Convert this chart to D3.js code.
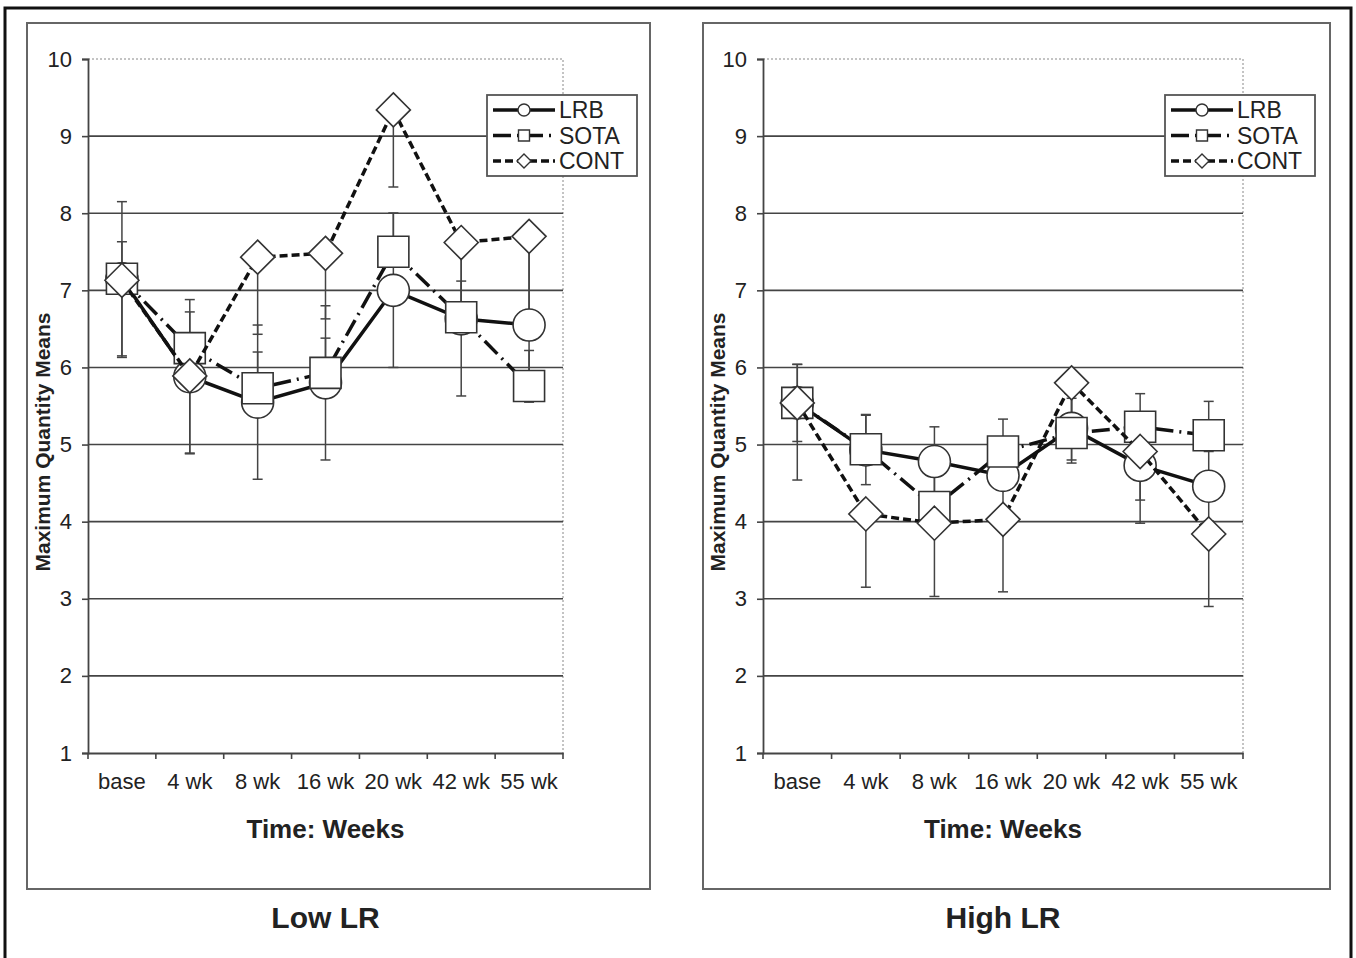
<!DOCTYPE html>
<html>
<head>
<meta charset="utf-8">
<script src="https://cdn.jsdelivr.net/npm/d3@7"></script>
<style>
  body { margin: 0; background: #fff; }
  svg { display: block; font-family: "Liberation Sans", Arial, sans-serif; }
</style>
</head>
<body>
<div id="chart"></div>
<script>
// Categories and ticks
const weeks = ['base', '4 wk', '8 wk', '16 wk', '20 wk', '42 wk', '55 wk'];
const seriesNames = ['LRB', 'SOTA', 'CONT'];
const yTicks = [1, 2, 3, 4, 5, 6, 7, 8, 9, 10];

// Low LR panel
const lowLRB = [7.15, 5.88, 5.55, 5.80, 7.00, 6.63, 6.55];
const lowSOTA = [7.15, 6.25, 5.73, 5.93, 7.50, 6.65, 5.76];
const lowCONT = [7.13, 5.89, 7.43, 7.48, 9.34, 7.62, 7.70];
const lowLRBErr = [1.0, 1.0, 1.0, 1.0, 1.0, 1.0, 1.0];
const lowSOTAErr = [0.48, 0.47, 0.47, 0.45, 0.50, 0.47, 0.46];
const lowCONTErr = [1.0, 1.0, 1.0, 0.85, 1.0, 1.0, 1.0];

// High LR panel
const highLRB = [5.54, 4.93, 4.78, 4.60, 5.21, 4.73, 4.46];
const highSOTA = [5.54, 4.94, 4.19, 4.91, 5.15, 5.23, 5.12];
const highCONT = [5.54, 4.10, 3.98, 4.03, 5.80, 4.91, 3.84];
const highLRBErr = [0.5, 0.45, 0.45, 0.45, 0.45, 0.45, 0.45];
const highSOTAErr = [0.5, 0.45, 0.45, 0.42, 0.45, 0.43, 0.44];
const highCONTErr = [1.0, 0.95, 0.95, 0.94, 1.0, 0.93, 0.94];

const width = 1356;
const height = 958;

const svg = d3.select('#chart')
  .append('svg')
  .attr('width', width)
  .attr('height', height);

// outer frame
svg.append('rect')
  .attr('x', 5).attr('y', 8)
  .attr('width', 1346).attr('height', 970)
  .attr('fill', '#fff')
  .attr('stroke', '#111')
  .attr('stroke-width', 3);

// series styles: line dash, marker, error bar direction
const styles = {
  LRB: { dash: null, marker: 'circle', dir: 'both' },
  SOTA: { dash: '18,6,2,6', marker: 'square', dir: 'plus' },
  CONT: { dash: '8,4', marker: 'diamond', dir: 'minus' }
};

function markerPath(type, s) {
  if (type === 'square') return `M${-s},${-s}H${s}V${s}H${-s}Z`;
  if (type === 'diamond') return `M0,${-s}L${s},0L0,${s}L${-s},0Z`;
  return `M${-s},0A${s},${s} 0 1,0 ${s},0A${s},${s} 0 1,0 ${-s},0Z`;
}
const markerSize = { circle: 16, square: 15.5, diamond: 17 };
const legendSize = { circle: 6, square: 5.5, diamond: 7 };

function drawPanel(p) {
  const g = svg.append('g');

  // panel box
  g.append('rect')
    .attr('x', p.box[0]).attr('y', 23)
    .attr('width', p.box[1] - p.box[0]).attr('height', 866)
    .attr('fill', '#fff')
    .attr('stroke', '#666')
    .attr('stroke-width', 2);

  const x = d3.scaleBand().domain(weeks).range([p.x0, p.x1]);
  const y = d3.scaleLinear().domain([1, 10]).range([753, 59]);
  const cx = d => x(d) + x.bandwidth() / 2;

  // dashed plot border (top and right)
  g.append('path')
    .attr('d', `M${p.x0},${y(10)}H${p.x1}V${y(1)}`)
    .attr('fill', 'none')
    .attr('stroke', '#888')
    .attr('stroke-width', 1)
    .attr('stroke-dasharray', '2,2');

  // gridlines
  g.selectAll('.grid')
    .data(yTicks.filter(t => t > 1 && t < 10))
    .enter().append('line')
    .attr('x1', p.x0).attr('x2', p.x1)
    .attr('y1', d => y(d)).attr('y2', d => y(d))
    .attr('stroke', '#444')
    .attr('stroke-width', 1.6);

  // y axis
  const yAxis = g.append('g')
    .attr('transform', `translate(${p.x0},0)`)
    .call(d3.axisLeft(y).tickValues(yTicks).tickSize(6).tickPadding(10).tickFormat(d3.format('d')));
  yAxis.select('.domain').attr('stroke', '#444').attr('stroke-width', 1.8);
  yAxis.selectAll('.tick line').attr('stroke', '#444').attr('stroke-width', 1.6);
  yAxis.selectAll('.tick text')
    .attr('font-size', 22)
    .attr('fill', '#222')
    .attr('font-family', '"Liberation Sans", Arial, sans-serif');

  // x axis
  const xAxis = g.append('g')
    .attr('transform', `translate(0,${y(1)})`)
    .call(d3.axisBottom(x).tickSize(0).tickPadding(20));
  xAxis.select('.domain').attr('stroke', '#444').attr('stroke-width', 1.8);
  xAxis.selectAll('.tick text')
    .attr('font-size', 22)
    .attr('fill', '#222')
    .attr('font-family', '"Liberation Sans", Arial, sans-serif');
  g.selectAll('.xtick')
    .data(weeks.map(d => x(d)).concat([p.x1]))
    .enter().append('line')
    .attr('x1', d => d).attr('x2', d => d)
    .attr('y1', y(1)).attr('y2', y(1) + 6)
    .attr('stroke', '#444')
    .attr('stroke-width', 1.6);

  // axis titles
  g.append('text')
    .attr('transform', `translate(${p.x0 - 38},442) rotate(-90)`)
    .attr('text-anchor', 'middle')
    .attr('font-size', 21)
    .attr('font-weight', 'bold')
    .attr('fill', '#222')
    .text('Maximum Quantity Means');

  g.append('text')
    .attr('x', (p.x0 + p.x1) / 2).attr('y', 838)
    .attr('text-anchor', 'middle')
    .attr('font-size', 26)
    .attr('font-weight', 'bold')
    .attr('fill', '#222')
    .text('Time: Weeks');

  g.append('text')
    .attr('x', (p.x0 + p.x1) / 2).attr('y', 928)
    .attr('text-anchor', 'middle')
    .attr('font-size', 30)
    .attr('font-weight', 'bold')
    .attr('fill', '#222')
    .text(p.title);

  // error bars
  seriesNames.forEach((name, si) => {
    const vals = p.values[si];
    const errs = p.errors[si];
    const dir = styles[name].dir;
    vals.forEach((v, i) => {
      const hi = dir === 'minus' ? v : v + errs[i];
      const lo = dir === 'plus' ? v : v - errs[i];
      const xc = cx(weeks[i]);
      g.append('line')
        .attr('x1', xc).attr('x2', xc)
        .attr('y1', y(hi)).attr('y2', y(lo))
        .attr('stroke', '#444').attr('stroke-width', 1.5);
      [hi, lo].filter(e => e !== v).forEach(e => {
        g.append('line')
          .attr('x1', xc - 5).attr('x2', xc + 5)
          .attr('y1', y(e)).attr('y2', y(e))
          .attr('stroke', '#444').attr('stroke-width', 1.5);
      });
    });
  });

  // series lines and markers
  seriesNames.forEach((name, si) => {
    const st = styles[name];
    const vals = p.values[si];
    const line = d3.line()
      .x((v, i) => cx(weeks[i]))
      .y(v => y(v));
    g.append('path')
      .datum(vals)
      .attr('d', line)
      .attr('fill', 'none')
      .attr('stroke', '#111')
      .attr('stroke-width', 3.5)
      .attr('stroke-dasharray', st.dash);
    g.selectAll('.m' + name)
      .data(vals)
      .enter().append('path')
      .attr('transform', (v, i) => `translate(${cx(weeks[i])},${y(v)})`)
      .attr('d', markerPath(st.marker, markerSize[st.marker]))
      .attr('fill', '#fff')
      .attr('stroke', '#333')
      .attr('stroke-width', 1.6);
  });

  // legend
  const lg = g.append('g').attr('transform', `translate(${p.legendX},95)`);
  lg.append('rect')
    .attr('width', 150).attr('height', 81)
    .attr('fill', '#fff')
    .attr('stroke', '#555')
    .attr('stroke-width', 1.8);
  seriesNames.forEach((name, si) => {
    const st = styles[name];
    const ry = 15 + si * 25.5;
    lg.append('line')
      .attr('x1', 6).attr('x2', 68)
      .attr('y1', ry).attr('y2', ry)
      .attr('stroke', '#111')
      .attr('stroke-width', 3.5)
      .attr('stroke-dasharray', st.dash);
    lg.append('path')
      .attr('transform', `translate(37,${ry})`)
      .attr('d', markerPath(st.marker, legendSize[st.marker]))
      .attr('fill', '#fff')
      .attr('stroke', '#333')
      .attr('stroke-width', 1.4);
    lg.append('text')
      .attr('x', 72).attr('y', ry + 8)
      .attr('font-size', 23)
      .attr('fill', '#222')
      .text(name);
  });
}

drawPanel({
  title: 'Low LR',
  box: [27, 650],
  x0: 88, x1: 563,
  legendX: 487,
  values: [lowLRB, lowSOTA, lowCONT],
  errors: [lowLRBErr, lowSOTAErr, lowCONTErr]
});

drawPanel({
  title: 'High LR',
  box: [703, 1330],
  x0: 763, x1: 1243,
  legendX: 1165,
  values: [highLRB, highSOTA, highCONT],
  errors: [highLRBErr, highSOTAErr, highCONTErr]
});
</script>
</body>
</html>
